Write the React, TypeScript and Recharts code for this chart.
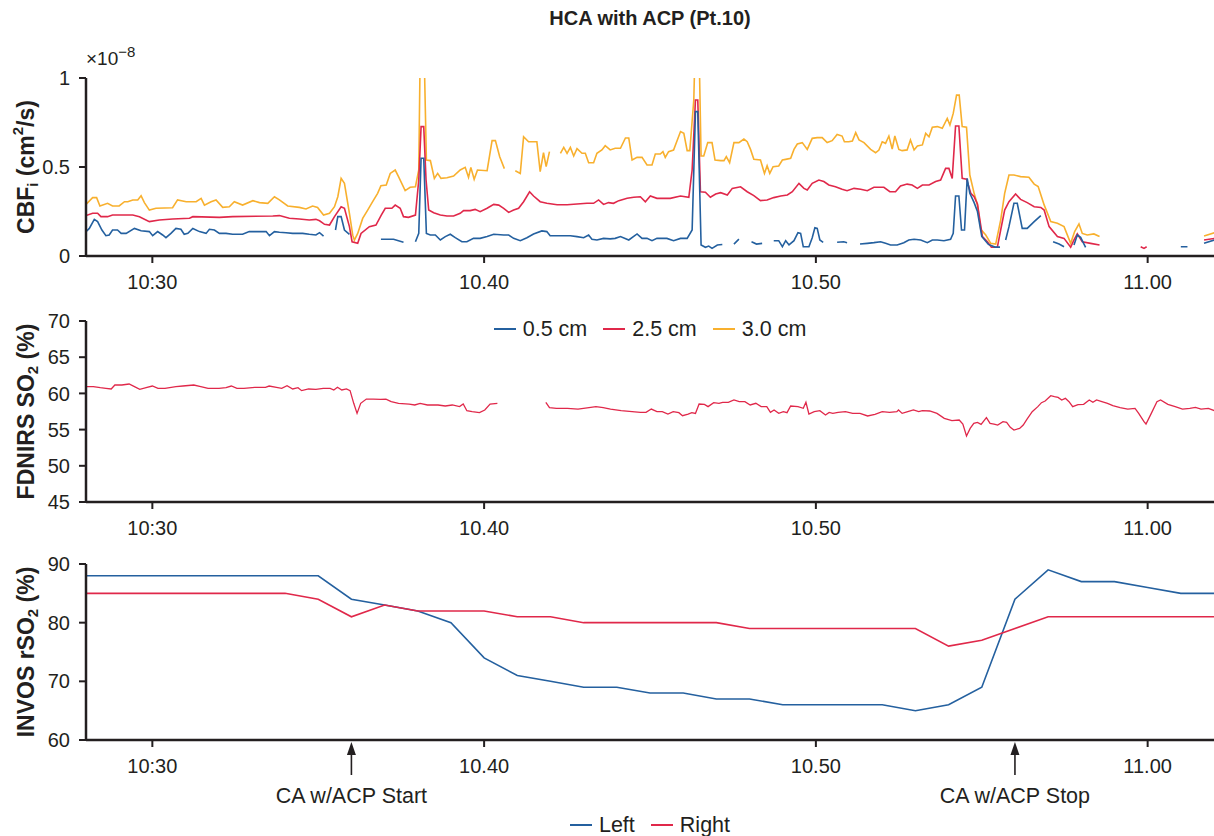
import React from 'react';
import { LineChart, Line, XAxis, YAxis, Legend } from 'recharts';

type Pt = [number, number | null];

// ---- axis ticks and annotations (minutes after 10:00) ----
const xTickValues = [30, 40, 50, 60];
const xTickLabels = ['10:30', '10.40', '10.50', '11.00'];
const eventTimes = [36, 56];
const eventLabels = ['CA w/ACP Start', 'CA w/ACP Stop'];

const cbfTicks = [0, 0.5, 1];
const so2Ticks = [45, 50, 55, 60, 65, 70];
const rso2Ticks = [60, 70, 80, 90];

// ---- CBFi (x 1e-8 cm^2/s), [minute, value]; null = no signal ----
const cbf05: Pt[] = [
  [28.0, 0.137], [28.1, 0.155], [28.25, 0.206], [28.35, 0.193], [28.48, 0.146], [28.6, 0.114], [28.7, 0.118],
  [28.8, 0.146], [28.95, 0.146], [29.06, 0.127], [29.21, 0.127], [29.46, 0.155], [29.66, 0.142], [29.91, 0.137],
  [30.01, 0.114], [30.16, 0.137], [30.31, 0.118], [30.41, 0.103], [30.56, 0.127], [30.71, 0.155], [30.86, 0.15],
  [30.96, 0.122], [31.07, 0.127], [31.22, 0.155], [31.42, 0.137], [31.62, 0.127], [31.72, 0.15], [31.87, 0.146],
  [32.02, 0.127], [32.22, 0.127], [32.42, 0.122], [32.72, 0.122], [32.92, 0.137], [33.23, 0.137], [33.43, 0.137],
  [33.53, 0.114], [33.68, 0.137], [33.83, 0.133], [34.03, 0.131], [34.23, 0.127], [34.53, 0.127], [34.73, 0.122],
  [34.93, 0.118], [35.04, 0.131], [35.16, 0.112], [35.3, null],
  [35.52, 0.146], [35.59, 0.221], [35.69, 0.221], [35.79, 0.146], [35.94, 0.122], [36.1, null],
  [36.89, 0.094], [37.27, 0.094], [37.57, 0.077], [37.75, null],
  [37.93, 0.08], [38.03, 0.127], [38.1, 0.549], [38.18, 0.549], [38.26, 0.127], [38.38, 0.118], [38.53, 0.118],
  [38.68, 0.09], [38.83, 0.109], [38.98, 0.122], [39.13, 0.103], [39.33, 0.08], [39.48, 0.08], [39.68, 0.099],
  [39.88, 0.099], [40.09, 0.109], [40.29, 0.122], [40.59, 0.118], [40.74, 0.118], [40.89, 0.099], [41.09, 0.086],
  [41.29, 0.103], [41.49, 0.124], [41.74, 0.141], [41.89, 0.137], [41.99, 0.114], [42.3, 0.114], [42.6, 0.114],
  [42.8, 0.109], [43.0, 0.103], [43.15, 0.118], [43.25, 0.094], [43.4, 0.09], [43.6, 0.099], [43.8, 0.096],
  [43.95, 0.099], [44.11, 0.109], [44.36, 0.09], [44.61, 0.124], [44.76, 0.099], [44.91, 0.099], [45.06, 0.086],
  [45.21, 0.099], [45.51, 0.099], [45.71, 0.086], [45.92, 0.099], [46.12, 0.099], [46.27, 0.146], [46.37, 0.811],
  [46.44, 0.811], [46.54, 0.062], [46.67, 0.049], [46.77, 0.056], [46.87, 0.043], [47.03, 0.062], [47.18, 0.065],
  [47.3, null], [47.53, 0.067], [47.68, 0.095], [47.8, null],
  [48.06, 0.08], [48.21, 0.067], [48.38, 0.071], [48.5, null],
  [48.73, 0.086], [48.88, 0.086], [48.99, 0.052], [49.09, 0.086], [49.19, 0.062], [49.34, 0.086], [49.46, 0.131],
  [49.54, 0.127], [49.62, 0.052], [49.79, 0.052], [49.89, 0.103], [49.97, 0.159], [50.04, 0.155], [50.12, 0.09],
  [50.22, 0.077], [50.35, null], [50.64, 0.077], [50.84, 0.08], [50.94, 0.075], [51.1, null],
  [51.33, 0.067], [51.55, 0.071], [51.75, 0.075], [51.95, 0.08], [52.1, 0.071], [52.25, 0.062], [52.45, 0.062],
  [52.65, 0.075], [52.8, 0.09], [52.96, 0.094], [53.16, 0.09], [53.36, 0.075], [53.51, 0.09], [53.66, 0.09],
  [53.86, 0.086], [54.06, 0.094], [54.14, 0.127], [54.21, 0.337], [54.31, 0.337], [54.39, 0.146], [54.48, 0.146],
  [54.56, 0.436], [54.64, 0.352], [54.77, 0.3], [54.87, 0.25], [55.0, 0.11], [55.2, 0.065], [55.4, 0.05],
  [55.55, 0.05], [55.62, null],
  [55.72, 0.09], [55.82, 0.165], [55.97, 0.296], [56.07, 0.296], [56.22, 0.155], [56.37, 0.155], [56.58, 0.193],
  [56.78, 0.227], [56.9, null], [57.15, 0.08], [57.33, 0.067], [57.48, 0.052], [57.6, null],
  [57.78, 0.062], [57.88, 0.118], [57.98, 0.105], [58.13, 0.049], [58.3, null],
  [61.0, 0.052], [61.2, 0.052], [61.4, null], [61.7, 0.071], [62.02, 0.09],
];

const cbf25: Pt[] = [
  [28.0, 0.227], [28.2, 0.24], [28.35, 0.24], [28.45, 0.221], [28.65, 0.221], [28.8, 0.23], [29.41, 0.23],
  [29.61, 0.221], [29.91, 0.193], [30.21, 0.202], [30.61, 0.208], [31.12, 0.212], [31.22, 0.221], [32.02, 0.217],
  [32.42, 0.221], [33.63, 0.225], [33.83, 0.227], [34.13, 0.212], [34.43, 0.208], [34.73, 0.202], [34.93, 0.206],
  [35.04, 0.198], [35.19, 0.178], [35.34, 0.174], [35.49, 0.221], [35.69, 0.277], [35.79, 0.268], [35.94, 0.165],
  [36.02, 0.08], [36.19, 0.071], [36.29, 0.127], [36.54, 0.165], [36.74, 0.174], [36.9, 0.23], [37.02, 0.268],
  [37.22, 0.268], [37.32, 0.286], [37.47, 0.268], [37.57, 0.221], [37.72, 0.217], [37.93, 0.23], [38.03, 0.427],
  [38.1, 0.727], [38.18, 0.727], [38.25, 0.427], [38.33, 0.258], [38.48, 0.243], [38.68, 0.23], [38.88, 0.225],
  [39.08, 0.225], [39.28, 0.24], [39.38, 0.255], [39.58, 0.255], [39.73, 0.262], [39.88, 0.249], [40.09, 0.268],
  [40.29, 0.29], [40.44, 0.286], [40.59, 0.268], [40.74, 0.245], [40.89, 0.258], [41.04, 0.268], [41.19, 0.305],
  [41.37, 0.361], [41.49, 0.337], [41.69, 0.305], [41.89, 0.296], [42.2, 0.288], [42.5, 0.288], [42.8, 0.292],
  [43.1, 0.296], [43.3, 0.296], [43.45, 0.315], [43.6, 0.29], [43.75, 0.3], [43.9, 0.296], [44.06, 0.311],
  [44.31, 0.324], [44.51, 0.33], [44.71, 0.333], [44.86, 0.305], [45.01, 0.337], [45.21, 0.324], [45.61, 0.324],
  [45.92, 0.337], [46.17, 0.33], [46.27, 0.483], [46.37, 0.876], [46.44, 0.876], [46.52, 0.361], [46.67, 0.358],
  [46.82, 0.33], [46.98, 0.348], [47.13, 0.356], [47.33, 0.343], [47.48, 0.38], [47.73, 0.389], [47.93, 0.361],
  [48.13, 0.339], [48.33, 0.311], [48.53, 0.315], [48.73, 0.328], [48.94, 0.337], [49.14, 0.343], [49.29, 0.361],
  [49.49, 0.408], [49.64, 0.38], [49.74, 0.371], [49.89, 0.408], [50.09, 0.427], [50.24, 0.418], [50.39, 0.399],
  [50.59, 0.389], [50.79, 0.375], [50.94, 0.367], [51.15, 0.38], [51.35, 0.375], [51.55, 0.367], [51.75, 0.386],
  [52.05, 0.386], [52.23, 0.361], [52.4, 0.361], [52.55, 0.393], [52.75, 0.404], [52.9, 0.399], [53.06, 0.38],
  [53.21, 0.399], [53.41, 0.399], [53.61, 0.418], [53.76, 0.427], [53.91, 0.492], [54.01, 0.492], [54.11, 0.436],
  [54.21, 0.73], [54.31, 0.73], [54.41, 0.436], [54.54, 0.431], [54.67, 0.352], [54.77, 0.333], [54.87, 0.292],
  [55.02, 0.109], [55.17, 0.08], [55.29, 0.049], [55.47, 0.049], [55.57, 0.146], [55.69, 0.258], [55.82, 0.305],
  [56.02, 0.348], [56.17, 0.318], [56.37, 0.3], [56.58, 0.277], [56.78, 0.273], [56.88, 0.258], [57.03, 0.165],
  [57.28, 0.109], [57.48, 0.099], [57.68, 0.049], [57.78, 0.09], [57.88, 0.124], [58.03, 0.08], [58.28, 0.071],
  [58.55, 0.062], [58.7, null], [59.79, 0.052], [59.89, 0.043], [59.97, 0.052], [60.1, null],
  [61.7, 0.09], [62.02, 0.099],
];

const cbf30: Pt[] = [
  [28.0, 0.29], [28.2, 0.328], [28.32, 0.328], [28.42, 0.281], [28.65, 0.296], [28.8, 0.281], [29.0, 0.281],
  [29.16, 0.305], [29.26, 0.305], [29.41, 0.315], [29.56, 0.315], [29.66, 0.339], [29.76, 0.3], [29.91, 0.258],
  [30.11, 0.268], [30.61, 0.271], [30.76, 0.315], [31.02, 0.305], [31.32, 0.305], [31.47, 0.324], [31.57, 0.286],
  [31.77, 0.305], [31.92, 0.315], [32.12, 0.273], [32.32, 0.277], [32.47, 0.305], [32.72, 0.286], [33.03, 0.311],
  [33.23, 0.3], [33.48, 0.296], [33.68, 0.333], [33.83, 0.315], [34.08, 0.281], [34.43, 0.273], [34.63, 0.264],
  [34.83, 0.281], [34.98, 0.273], [35.16, 0.23], [35.34, 0.24], [35.49, 0.277], [35.59, 0.333], [35.69, 0.436],
  [35.79, 0.408], [35.94, 0.24], [36.04, 0.117], [36.09, 0.089], [36.19, 0.127], [36.34, 0.211], [36.49, 0.258],
  [36.64, 0.305], [36.79, 0.352], [36.89, 0.395], [37.05, 0.399], [37.17, 0.464], [37.32, 0.483], [37.42, 0.446],
  [37.62, 0.367], [37.77, 0.386], [37.93, 0.389], [38.03, 0.483], [38.08, 1.25], [38.18, 1.25], [38.26, 0.539],
  [38.38, 0.536], [38.5, 0.436], [38.6, 0.464], [38.7, 0.436], [38.88, 0.44], [39.08, 0.449], [39.28, 0.483],
  [39.43, 0.498], [39.53, 0.442], [39.6, 0.498], [39.7, 0.431], [39.8, 0.483], [40.09, 0.479], [40.24, 0.648],
  [40.34, 0.648], [40.47, 0.558], [40.61, 0.491], [40.75, null],
  [40.94, 0.479], [41.09, 0.464], [41.19, 0.67], [41.34, 0.642], [41.59, 0.642], [41.69, 0.474], [41.79, 0.58],
  [41.87, 0.502], [41.97, 0.586], [42.1, null],
  [42.3, 0.577], [42.4, 0.61], [42.5, 0.577], [42.6, 0.61], [42.7, 0.562], [42.8, 0.603], [42.95, 0.577],
  [43.05, 0.577], [43.15, 0.524], [43.3, 0.524], [43.4, 0.577], [43.55, 0.596], [43.65, 0.62], [43.8, 0.596],
  [43.95, 0.605], [44.11, 0.605], [44.26, 0.663], [44.36, 0.663], [44.46, 0.539], [44.61, 0.554], [44.76, 0.554],
  [44.91, 0.511], [45.06, 0.511], [45.16, 0.573], [45.31, 0.573], [45.39, 0.586], [45.46, 0.554], [45.56, 0.586],
  [45.71, 0.595], [45.92, 0.699], [46.02, 0.689], [46.12, 0.592], [46.2, 0.592], [46.32, 0.876], [46.37, 1.25],
  [46.47, 1.25], [46.54, 0.562], [46.62, 0.562], [46.74, 0.637], [46.87, 0.637], [46.96, 0.539], [47.13, 0.536],
  [47.23, 0.536], [47.3, 0.558], [47.4, 0.524], [47.53, 0.637], [47.68, 0.637], [47.83, 0.657], [47.93, 0.642],
  [48.03, 0.599], [48.13, 0.543], [48.33, 0.539], [48.45, 0.464], [48.53, 0.507], [48.61, 0.464], [48.71, 0.502],
  [48.88, 0.506], [48.99, 0.539], [49.09, 0.543], [49.24, 0.549], [49.34, 0.599], [49.44, 0.629], [49.59, 0.637],
  [49.74, 0.599], [49.89, 0.661], [50.04, 0.665], [50.19, 0.665], [50.34, 0.637], [50.49, 0.648], [50.64, 0.683],
  [50.79, 0.674], [50.86, 0.642], [50.99, 0.642], [51.1, 0.646], [51.2, 0.693], [51.3, 0.652], [51.45, 0.637],
  [51.65, 0.599], [51.8, 0.58], [51.9, 0.595], [52.0, 0.642], [52.1, 0.633], [52.2, 0.674], [52.3, 0.601],
  [52.38, 0.674], [52.5, 0.599], [52.6, 0.592], [52.75, 0.596], [52.85, 0.652], [52.96, 0.596], [53.06, 0.618],
  [53.21, 0.624], [53.31, 0.689], [53.41, 0.67], [53.51, 0.723], [53.66, 0.727], [53.81, 0.717], [53.96, 0.773],
  [54.04, 0.736], [54.14, 0.801], [54.24, 0.904], [54.32, 0.904], [54.41, 0.727], [54.54, 0.723], [54.64, 0.455],
  [54.77, 0.352], [54.87, 0.287], [54.97, 0.15], [55.12, 0.118], [55.27, 0.071], [55.42, 0.067], [55.57, 0.202],
  [55.69, 0.352], [55.82, 0.455], [55.97, 0.455], [56.17, 0.446], [56.42, 0.442], [56.58, 0.404], [56.7, 0.39],
  [56.88, 0.287], [57.08, 0.193], [57.28, 0.184], [57.48, 0.165], [57.68, 0.071], [57.8, 0.137], [57.93, 0.18],
  [58.03, 0.127], [58.18, 0.118], [58.38, 0.124], [58.55, 0.109], [58.7, null],
  [61.7, 0.112], [62.02, 0.131],
];

// ---- FDNIRS SO2 (%) at 2.5 cm ----
const fdnirsSO2: Pt[] = [
  [28.0, 60.93], [28.22, 60.93], [28.43, 60.79], [28.6, 60.7], [28.76, 60.61], [28.87, 61.16], [29.08, 61.16],
  [29.3, 61.3], [29.46, 60.93], [29.62, 60.56], [29.84, 60.84], [30.0, 61.02], [30.17, 60.7], [30.38, 60.7],
  [30.71, 60.93], [30.92, 61.02], [31.25, 61.16], [31.46, 60.93], [31.68, 60.7], [32.01, 60.7], [32.22, 60.79],
  [32.38, 61.02], [32.55, 60.7], [32.76, 60.7], [33.09, 60.84], [33.41, 60.84], [33.52, 61.02], [33.74, 60.84],
  [33.9, 60.7], [34.06, 61.07], [34.23, 60.61], [34.39, 60.79], [34.5, 60.38], [34.71, 60.61], [34.93, 60.56],
  [35.15, 60.7], [35.36, 60.7], [35.47, 60.47], [35.58, 60.84], [35.71, 60.47], [35.85, 60.61], [35.96, 60.38],
  [36.07, 58.63], [36.17, 57.24], [36.28, 58.63], [36.45, 59.22], [36.66, 59.22], [36.88, 59.18], [37.04, 59.22],
  [37.2, 58.86], [37.42, 58.63], [37.74, 58.53], [37.91, 58.4], [38.07, 58.63], [38.29, 58.4], [38.61, 58.4],
  [38.83, 58.26], [39.04, 58.4], [39.26, 58.17], [39.37, 58.53], [39.48, 57.61], [39.64, 57.48], [39.86, 57.34],
  [40.02, 57.71], [40.18, 58.53], [40.4, 58.63], [40.45, null],
  [41.86, 58.77], [41.97, 58.03], [42.18, 57.94], [42.51, 57.94], [42.83, 57.84], [43.16, 58.03], [43.37, 58.17],
  [43.59, 58.03], [43.81, 57.84], [44.13, 57.61], [44.46, 57.48], [44.71, 57.38], [44.88, 57.38], [45.04, 57.84],
  [45.21, 57.48], [45.37, 57.48], [45.54, 57.15], [45.7, 57.48], [45.87, 57.34], [45.98, 56.92], [46.15, 57.15],
  [46.26, 57.34], [46.37, 57.24], [46.48, 58.53], [46.64, 58.49], [46.75, 58.17], [46.92, 58.72], [47.08, 58.63],
  [47.19, 58.77], [47.36, 58.77], [47.53, 59.09], [47.69, 58.86], [47.86, 58.86], [48.02, 58.4], [48.19, 58.63],
  [48.35, 58.17], [48.52, 58.17], [48.63, 57.38], [48.74, 57.71], [48.88, 57.24], [49.02, 57.48], [49.13, 57.34],
  [49.24, 58.26], [49.46, 58.17], [49.62, 57.94], [49.7, 58.77], [49.79, 57.15], [49.95, 57.48], [50.12, 57.61],
  [50.29, 57.01], [50.4, 57.38], [50.51, 57.24], [50.67, 57.38], [50.89, 57.48], [51.11, 57.24], [51.33, 57.24],
  [51.56, 56.88], [51.78, 57.11], [52.0, 57.48], [52.22, 57.38], [52.44, 57.48], [52.49, 57.71], [52.6, 57.24],
  [52.77, 57.48], [52.94, 57.71], [53.1, 57.48], [53.21, 57.61], [53.43, 57.57], [53.65, 57.24], [53.87, 56.55],
  [54.1, 56.23], [54.32, 56.32], [54.43, 55.77], [54.54, 54.11], [54.65, 55.17], [54.76, 55.86], [54.87, 56.0],
  [54.98, 55.73], [55.14, 56.65], [55.25, 55.86], [55.37, 55.77], [55.48, 55.63], [55.64, 56.09], [55.75, 56.0],
  [55.86, 55.31], [55.97, 54.94], [56.14, 55.17], [56.25, 55.63], [56.36, 56.42], [56.52, 57.48], [56.69, 58.17],
  [56.8, 58.72], [56.91, 58.95], [57.08, 59.68], [57.19, 59.55], [57.3, 59.45], [57.41, 59.09], [57.52, 59.32],
  [57.63, 58.86], [57.74, 58.17], [57.9, 58.44], [58.07, 58.49], [58.24, 59.09], [58.35, 58.77], [58.46, 59.09],
  [58.62, 58.86], [58.79, 58.63], [58.95, 58.3], [59.17, 58.03], [59.4, 57.84], [59.62, 57.94], [59.73, 57.24],
  [59.89, 56.09], [59.95, 55.77], [60.11, 57.24], [60.28, 58.86], [60.39, 59.09], [60.61, 58.49], [60.83, 58.17],
  [61.05, 57.84], [61.27, 57.94], [61.44, 58.07], [61.61, 57.84], [61.83, 57.94], [62.02, 57.61],
];

// ---- INVOS rSO2 (%), one reading per minute ----
const invosMinutes = [
  28, 29, 30, 31, 32, 33, 34, 35, 36, 37, 38, 39, 40, 41, 42, 43, 44, 45,
  46, 47, 48, 49, 50, 51, 52, 53, 54, 55, 56, 57, 58, 59, 60, 61, 62,
];
const invosLeft = [
  88, 88, 88, 88, 88, 88, 88, 88, 84, 83, 82, 80, 74, 71, 70, 69, 69, 68,
  68, 67, 67, 66, 66, 66, 66, 65, 66, 69, 84, 89, 87, 87, 86, 85, 85,
];
const invosRight = [
  85, 85, 85, 85, 85, 85, 85, 84, 81, 83, 82, 82, 82, 81, 81, 80, 80, 80,
  80, 80, 79, 79, 79, 79, 79, 79, 76, 77, 79, 81, 81, 81, 81, 81, 81,
];

// ---- styling ----
const W = 1214;
const AXIS_W = 86;
const INK = '#231f20';
const BLUE = '#24609f';
const RED = '#e0284a';
const ORANGE = '#f8b02e';
const FONT = '"Liberation Sans", Arial, Helvetica, sans-serif';
const X_DOMAIN: [number, number] = [28, 62];

const toRows = (pts: Pt[]) => pts.map(([t, v]) => ({ t, v }));
const invosRows = invosMinutes.map((t, i) => ({ t, left: invosLeft[i], right: invosRight[i] }));

function TimeTick(props: any) {
  const { x, y, payload } = props;
  const v = payload.value;
  const ev = eventTimes.indexOf(v);
  if (ev >= 0) {
    return (
      <g>
        <line x1={x} x2={x} y1={y + 35} y2={y + 12} stroke={INK} strokeWidth={1.6} />
        <path d={`M${x},${y + 2} L${x - 4.5},${y + 15} L${x + 4.5},${y + 15} Z`} fill={INK} />
        <text x={x} y={y + 63} textAnchor="middle" fontSize={21.5} fill={INK} fontFamily={FONT}>
          {eventLabels[ev]}
        </text>
      </g>
    );
  }
  const i = xTickValues.indexOf(v);
  return (
    <g>
      <line x1={x} x2={x} y1={y} y2={y + 7} stroke={INK} strokeWidth={2} />
      <text x={x} y={y + 33} textAnchor="middle" fontSize={20} fill={INK} fontFamily={FONT}>
        {xTickLabels[i]}
      </text>
    </g>
  );
}

type TitlePart = { text: string; shift?: 'sub' | 'sup' };

function AxisTitle(props: any) {
  const { viewBox, parts, multiplier } = props;
  const vb = viewBox || { x: 0, y: 0, width: AXIS_W, height: 0 };
  const cx = 26;
  const cy = vb.y + vb.height / 2;
  let level = 0;
  const spans = (parts as TitlePart[]).map((p, i) => {
    const target = p.shift === 'sub' ? 6 : p.shift === 'sup' ? -9 : 0;
    const dy = target - level;
    level = target;
    return (
      <tspan key={i} dy={dy} fontSize={p.shift ? 15 : 23}>
        {p.text}
      </tspan>
    );
  });
  return (
    <g>
      <text
        x={cx}
        y={cy}
        transform={`rotate(-90, ${cx}, ${cy})`}
        textAnchor="middle"
        dominantBaseline="central"
        fontWeight="bold"
        fontSize={23}
        fill={INK}
        fontFamily={FONT}
      >
        {spans}
      </text>
      {multiplier ? (
        <text x={vb.x + vb.width} y={vb.y - 13} fontSize={19} fill={INK} fontFamily={FONT}>
          {multiplier[0]}
          <tspan dy={-8} fontSize={15}>{multiplier[1]}</tspan>
        </text>
      ) : null}
    </g>
  );
}

function LegendRow(props: any) {
  const items = props.payload || [];
  return (
    <div
      style={{
        display: 'flex',
        justifyContent: 'center',
        alignItems: 'center',
        gap: 16,
        fontFamily: FONT,
        fontSize: 21.5,
        color: INK,
        lineHeight: '24px',
      }}
    >
      {items.map((p: any) => (
        <span key={p.value} style={{ display: 'flex', alignItems: 'center' }}>
          <span style={{ display: 'inline-block', width: 22, height: 2, background: p.color, marginRight: 7 }} />
          {p.value}
        </span>
      ))}
    </div>
  );
}

const axisLine = { stroke: INK, strokeWidth: 2.5 };
const yTick = { fontSize: 20, fill: INK, fontFamily: FONT };
const yTickLine = { stroke: INK, strokeWidth: 2 };

export default function App() {
  return (
    <div style={{ position: 'absolute', left: 0, top: 0, width: W, height: 836, background: '#fff', fontFamily: FONT }}>
      <div
        style={{
          position: 'absolute',
          top: 7,
          left: AXIS_W,
          width: W - AXIS_W,
          textAlign: 'center',
          fontWeight: 'bold',
          fontSize: 20,
          lineHeight: '22px',
          color: INK,
        }}
      >
        HCA with ACP (Pt.10)
      </div>

      {/* CBFi at three source-detector separations */}
      <div style={{ position: 'absolute', left: 0, top: 0 }}>
        <LineChart width={W} height={296} margin={{ top: 78, right: 0, bottom: 0, left: 0 }}>
          <XAxis
            dataKey="t"
            type="number"
            domain={X_DOMAIN}
            allowDataOverflow
            ticks={xTickValues}
            interval={0}
            height={40}
            tickSize={0}
            tickMargin={0}
            tickLine={false}
            axisLine={axisLine}
            tick={<TimeTick />}
          />
          <YAxis
            type="number"
            domain={[0, 1]}
            allowDataOverflow
            ticks={cbfTicks}
            interval={0}
            width={AXIS_W}
            tickSize={7}
            tickMargin={9}
            tick={yTick}
            tickLine={yTickLine}
            axisLine={axisLine}
            label={
              <AxisTitle
                parts={[{ text: 'CBF' }, { text: 'i', shift: 'sub' }, { text: ' (cm' }, { text: '2', shift: 'sup' }, { text: '/s)' }]}
                multiplier={['\u00d710', '\u22128']}
              />
            }
          />
          <Line data={toRows(cbf30)} dataKey="v" name="3.0 cm" stroke={ORANGE} strokeWidth={1.6} dot={false} isAnimationActive={false} />
          <Line data={toRows(cbf25)} dataKey="v" name="2.5 cm" stroke={RED} strokeWidth={1.6} dot={false} isAnimationActive={false} />
          <Line data={toRows(cbf05)} dataKey="v" name="0.5 cm" stroke={BLUE} strokeWidth={1.6} dot={false} isAnimationActive={false} />
          <Legend
            layout="horizontal"
            verticalAlign="middle"
            align="center"
            content={<LegendRow />}
            wrapperStyle={{ top: 317, left: AXIS_W, width: W - AXIS_W, height: 24 }}
          />
        </LineChart>
      </div>

      {/* FDNIRS tissue oxygen saturation */}
      <div style={{ position: 'absolute', left: 0, top: 296 }}>
        <LineChart width={W} height={246} margin={{ top: 25, right: 0, bottom: 0, left: 0 }}>
          <XAxis
            dataKey="t"
            type="number"
            domain={X_DOMAIN}
            allowDataOverflow
            ticks={xTickValues}
            interval={0}
            height={40}
            tickSize={0}
            tickMargin={0}
            tickLine={false}
            axisLine={axisLine}
            tick={<TimeTick />}
          />
          <YAxis
            type="number"
            domain={[45, 70]}
            allowDataOverflow
            ticks={so2Ticks}
            interval={0}
            width={AXIS_W}
            tickSize={7}
            tickMargin={9}
            tick={yTick}
            tickLine={yTickLine}
            axisLine={axisLine}
            label={<AxisTitle parts={[{ text: 'FDNIRS SO' }, { text: '2', shift: 'sub' }, { text: ' (%)' }]} />}
          />
          <Line data={toRows(fdnirsSO2)} dataKey="v" name="SO2" stroke={RED} strokeWidth={1.3} dot={false} isAnimationActive={false} />
        </LineChart>
      </div>

      {/* INVOS regional saturation, left and right */}
      <div style={{ position: 'absolute', left: 0, top: 542 }}>
        <LineChart width={W} height={294} data={invosRows} margin={{ top: 22, right: 0, bottom: 0, left: 0 }}>
          <XAxis
            dataKey="t"
            type="number"
            domain={X_DOMAIN}
            allowDataOverflow
            ticks={[...xTickValues, ...eventTimes].sort((a, b) => a - b)}
            interval={0}
            height={96}
            tickSize={0}
            tickMargin={0}
            tickLine={false}
            axisLine={axisLine}
            tick={<TimeTick />}
          />
          <YAxis
            type="number"
            domain={[60, 90]}
            allowDataOverflow
            ticks={rso2Ticks}
            interval={0}
            width={AXIS_W}
            tickSize={7}
            tickMargin={9}
            tick={yTick}
            tickLine={yTickLine}
            axisLine={axisLine}
            label={<AxisTitle parts={[{ text: 'INVOS rSO' }, { text: '2', shift: 'sub' }, { text: ' (%)' }]} />}
          />
          <Line dataKey="left" name="Left" stroke={BLUE} strokeWidth={1.6} dot={false} isAnimationActive={false} />
          <Line dataKey="right" name="Right" stroke={RED} strokeWidth={1.6} dot={false} isAnimationActive={false} />
          <Legend
            layout="horizontal"
            verticalAlign="middle"
            align="center"
            content={<LegendRow />}
            wrapperStyle={{ top: 271, left: AXIS_W, width: W - AXIS_W, height: 24 }}
          />
        </LineChart>
      </div>
    </div>
  );
}
